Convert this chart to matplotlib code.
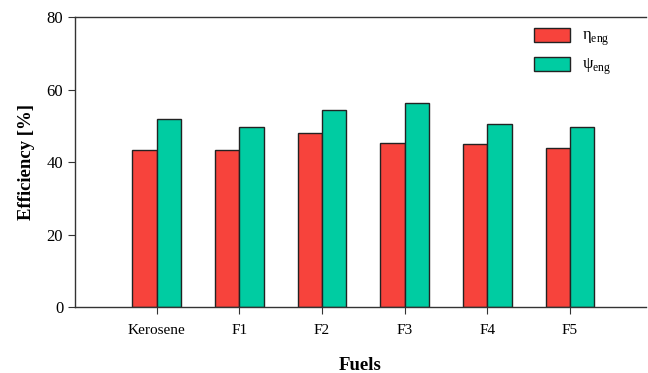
import numpy as np
import matplotlib.pyplot as plt

fuels = ["Kerosene", "F1", "F2", "F3", "F4", "F5"]
eta_eng = [43.3, 43.4, 48.0, 45.4, 45.1, 43.8]
psi_eng = [51.9, 49.7, 54.3, 56.2, 50.4, 49.6]

plt.rcParams["font.family"] = ["Liberation Serif", "DejaVu Serif"]
plt.rcParams["mathtext.fontset"] = "custom"
plt.rcParams["mathtext.rm"] = "Liberation Serif"

fig = plt.figure(figsize=(6.48, 3.73), dpi=100)
ax = fig.add_axes([0.1157, 0.177, 0.8813, 0.777])

x = np.arange(len(fuels))
w = 0.295
ax.bar(x - w / 2, eta_eng, w, color="#f7433c", edgecolor="#222222", linewidth=1.0,
       label="η$_{\\mathrm{eng}}$")
ax.bar(x + w / 2, psi_eng, w, color="#00cca2", edgecolor="#222222", linewidth=1.0,
       label="ψ$_{\\mathrm{eng}}$")

ax.set_xlim(-0.99, 5.92)
ax.set_ylim(0, 80)
ax.set_yticks([0, 20, 40, 60, 80])
ax.set_xticks(x)
ax.set_xticklabels(fuels, fontsize=11)
ax.tick_params(axis="y", labelsize=12, direction="out", length=5, color="#333333")
ax.tick_params(axis="x", direction="out", length=5, color="#333333", pad=7)
ax.spines["right"].set_visible(False)
for s in ["left", "top", "bottom"]:
    ax.spines[s].set_color("#333333")
    ax.spines[s].set_linewidth(1.0)

ax.set_ylabel("Efficiency [%]", fontsize=13.5, fontweight="bold", labelpad=8)
ax.set_xlabel("Fuels", fontsize=13.5, fontweight="bold", labelpad=15)

ax.legend(loc="upper right", frameon=False, fontsize=12, handlelength=2.2,
          handleheight=0.9, handletextpad=0.7, labelspacing=0.5,
          bbox_to_anchor=(0.965, 1.015))

fig.savefig("out.png", dpi=100)
